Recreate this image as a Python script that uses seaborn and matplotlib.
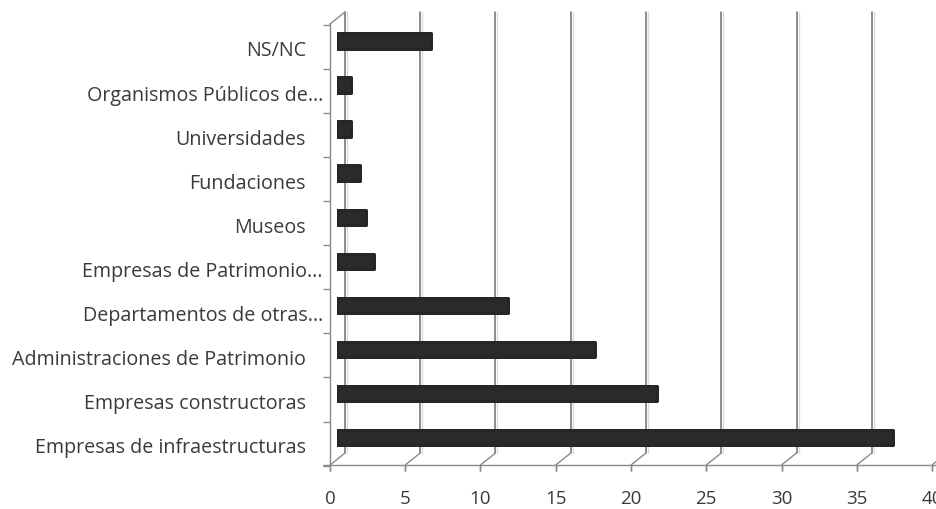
import matplotlib
matplotlib.use("Agg")
import matplotlib.pyplot as plt
from matplotlib.transforms import ScaledTranslation
import pandas as pd
import seaborn as sns

# Survey answers (percent of respondents), listed top to bottom
categorias = [
    "NS/NC",
    "Organismos Públicos de…",
    "Universidades",
    "Fundaciones",
    "Museos",
    "Empresas de Patrimonio…",
    "Departamentos de otras…",
    "Administraciones de Patrimonio",
    "Empresas constructoras",
    "Empresas de infraestructuras",
]
valores = [6.2, 0.9, 0.9, 1.5, 1.9, 2.4, 11.3, 17.1, 21.2, 36.9]
ticks_x = [0, 5, 10, 15, 20, 25, 30, 35, 40]

df = pd.DataFrame({"categoria": categorias, "valor": valores})

sns.set_theme(style="white")
plt.rcParams["font.family"] = ["Open Sans", "DejaVu Sans"]

W, H = 937, 510
DPI = 100
fig = plt.figure(figsize=(W / DPI, H / DPI), dpi=DPI)
fig.patch.set_facecolor("white")

# Middle depth plane of the pseudo-3D box, in pixels
left_px, scale_px = 337.5, 15.05
top_px, bot_px = 19.0, 460.0
pitch_px, first_row_px = 44.06, 42.0
ax = fig.add_axes([left_px / W, 1 - bot_px / H,
                   40 * scale_px / W, (bot_px - top_px) / H])

sns.barplot(data=df, x="valor", y="categoria", orient="h", order=categorias,
            color="#2a2a2a", saturation=1, width=0.35, ax=ax, zorder=5)
for p in ax.patches:
    p.set_edgecolor("#262626")
    p.set_linewidth(3 * 72 / DPI)
    p.set_joinstyle("round")

y_top = (top_px - first_row_px) / pitch_px
y_bot = (bot_px - first_row_px) / pitch_px
ax.set_xlim(0, 40)
ax.set_ylim(y_bot, y_top)
ax.axis("off")


def shifted(dx, dy):
    """Data transform moved by dx, dy pixels (dy positive = up)."""
    return ax.transData + ScaledTranslation(dx / DPI, dy / DPI, fig.dpi_scale_trans)


front = shifted(-7.5, -6)
back = shifted(7.5, 6)
line_c = "#8a8a8a"

# Back wall gridlines
for t in ticks_x:
    ax.plot([t, t], [y_bot, y_top], transform=shifted(9.5, 6), color="#dcdcdc",
            lw=1.0, clip_on=False, zorder=1)
    ax.plot([t, t], [y_bot, y_top], transform=back, color="#6e6e6e",
            lw=1.1, clip_on=False, zorder=2)

# Front axes: vertical axis, floor edge and the slanted floor connectors
ax.plot([0, 0], [y_bot, y_top], transform=front, color=line_c, lw=1.0,
        clip_on=False, zorder=3)
ax.plot([-0.47, 40.6], [y_bot, y_bot], transform=front, color=line_c, lw=1.0,
        clip_on=False, zorder=3)
for t in ticks_x:
    ax.annotate("", xy=(t, y_bot), xycoords=front, xytext=(15, 12),
                textcoords="offset pixels",
                arrowprops=dict(arrowstyle="-", color=line_c, lw=1.0,
                                shrinkA=0, shrinkB=0), zorder=3)
    ax.plot([t, t], [y_bot, y_bot], transform=front, marker=3, ms=6 * 72 / DPI,
            mew=1.0, color=line_c, clip_on=False, zorder=3)
ax.annotate("", xy=(0, y_top), xycoords=front, xytext=(15, 12),
            textcoords="offset pixels",
            arrowprops=dict(arrowstyle="-", color=line_c, lw=1.0,
                            shrinkA=0, shrinkB=0), zorder=3)

# Category boundary ticks on the front vertical axis
for k in range(len(categorias) + 1):
    yb = k - 0.5
    ax.plot([0], [yb], transform=front, marker=0, ms=7 * 72 / DPI, mew=1.0,
            color=line_c, clip_on=False, zorder=3)

text_c = "#3a3a3a"
fs = 14.2

# Category labels, right aligned in front of the axis
for i, lab in enumerate(categorias):
    dx = -14.5 if lab.endswith("…") else -31.5
    ax.text(0, i, lab, transform=shifted(dx, -14.5), ha="right", va="baseline",
            fontsize=fs, color=text_c, clip_on=False)

# Value axis labels
for t in ticks_x:
    ax.text(t, y_bot, str(t), transform=shifted(-7.5, -44.5), ha="center",
            va="baseline", fontsize=13.5, color=text_c, clip_on=False)

fig.savefig("out.png", dpi=DPI, facecolor="white")
